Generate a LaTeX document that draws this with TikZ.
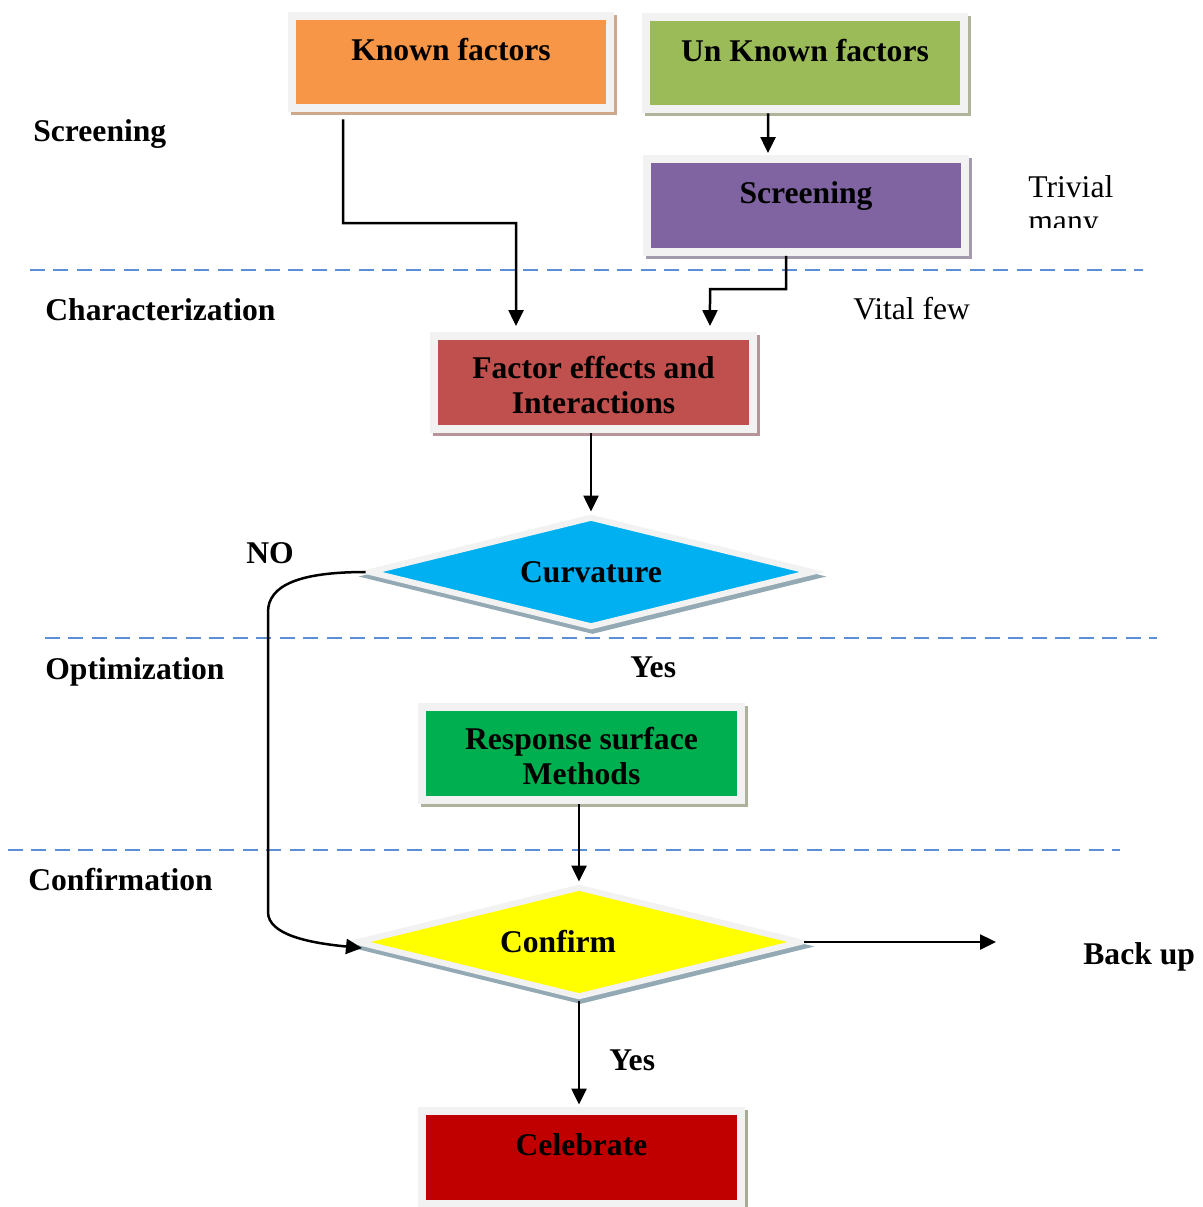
\documentclass[tikz,border=0pt]{standalone}
\usepackage{fontspec}
\setmainfont{Liberation Serif}
\usetikzlibrary{shapes.geometric,arrows.meta,positioning}

\definecolor{rim}{HTML}{F2F2F2}
\definecolor{knownfill}{HTML}{F79646}
\definecolor{knownshade}{HTML}{CFA88A}
\definecolor{unknownfill}{HTML}{9BBB59}
\definecolor{unknownshade}{HTML}{AEB59A}
\definecolor{screenfill}{HTML}{8064A2}
\definecolor{screenshade}{HTML}{A39BAD}
\definecolor{factorfill}{HTML}{C0504D}
\definecolor{factorshade}{HTML}{B69497}
\definecolor{curvfill}{HTML}{00B0F0}
\definecolor{diashade}{HTML}{93AAB4}
\definecolor{rsmfill}{HTML}{00B050}
\definecolor{rsmshade}{HTML}{AEB29C}
\definecolor{conffill}{HTML}{FFFF00}
\definecolor{celebfill}{HTML}{C00000}
\definecolor{celebshade}{HTML}{A8AE96}
\definecolor{phaseline}{HTML}{5B8ED6}

\newcommand{\flowfont}{\bfseries\fontsize{18}{20}\selectfont}
\newcommand{\notefont}{\fontsize{18}{20}\selectfont}

\tikzset {
    stagebox/.style 2 args = {rectangle, fill=#1, draw=rim, line width=0.16cm,
        minimum width=6.38cm, minimum height=1.86cm, inner sep=0pt, align=center, font=\flowfont,
        preaction={draw=#2, fill=#2, transform canvas={xshift=0.06cm, yshift=-0.06cm}}},
    oneline/.style = {text height=0.44cm, text depth=0.52cm},
    twoline/.style = {text height=1.24cm, text depth=0cm},
    decision/.style 2 args = {diamond, aspect=3.9, fill=#1, draw=rim, line width=0.12cm,
        minimum width=8.9cm, minimum height=2.22cm, inner sep=0pt, font=\flowfont,
        preaction={draw=#2, fill=#2, transform canvas={xshift=0.03cm, yshift=-0.09cm}}},
    phase/.style = {draw=phaseline, line width=0.05cm, dash pattern=on 0.3cm off 0.17cm},
    flow/.style = {->, line width=0.05cm, shorten >=0.04cm},
    tag/.style = {anchor=base west, inner sep=0pt, font=\flowfont},
    note/.style = {anchor=base west, inner sep=0pt, font=\notefont}
}

\begin{document}
\begin{tikzpicture}[x=0.02cm, y=-0.02cm, >={Triangle[length=0.32cm, width=0.3cm]}]
	\useasboundingbox (0,0) rectangle (1203,1207);

	% phase separators
	\draw[phase] (30,270) -- (1143,270);
	\draw[phase] (45,638) -- (1157,638);
	\draw[phase] (8,850) -- (1120,850);

	\node (known) [stagebox={knownfill}{knownshade}, oneline] at (451,62) {Known factors};
	\node (unknown) [stagebox={unknownfill}{unknownshade}, oneline] at (805,63) {Un Known factors};
	\node (screen) [stagebox={screenfill}{screenshade}, oneline] at (806,205.5) {Screening};
	\node (factor) [stagebox={factorfill}{factorshade}, twoline] at (593.5,382.5) {Factor effects and\\Interactions};
	\node (curv) [decision={curvfill}{diashade}] at (591,572) {Curvature};
	\node (rsm) [stagebox={rsmfill}{rsmshade}, twoline] at (581.5,753.5) {Response surface\\Methods};
	\node (conf) [decision={conffill}{diashade}] at (579,942) {Confirm\hspace*{0.84cm}};
	\node (celeb) [stagebox={celebfill}{celebshade}, oneline] at (581.5,1157) {Celebrate};

	% phase names
	\node (lscreen) [tag] at (33,141) {Screening};
	\node (lchar) [tag] at (45,320) {Characterization};
	\node (lopt) [tag] at (45,679) {Optimization};
	\node (lconf) [tag] at (28,890) {Confirmation};

	\node (trivial) [note] at (1028,197) {Trivial};
	\begin{scope}
	\clip (1000,150) rectangle (1203,227);
	\node (many) [note] at (1028,231) {many};
	\end{scope}
	\node (vital) [note] at (853,319) {Vital few};
	\node (no) [tag] at (246,563) {NO};
	\node (yes) [tag] at (630,677) {Yes};
	\node (yes2) [tag] at (609,1070) {Yes};
	\node (backup) [tag] at (1083,964) {Back up};

	\coordinate (kbend) at (516,223);
	\coordinate (sbend) at (710,289);
	\coordinate (notop) at (268,612);
	\coordinate (nobot) at (268,912);
	\coordinate (noend) at (362,948);
	\coordinate (backend) at (998,942);

	\draw[flow, shorten <=0.14cm, shorten >=0.12cm] ([xshift=-2.16cm]known.south) |- (kbend) -- ([xshift=-1.55cm]factor.north);
	\draw[flow] ([xshift=-0.74cm]unknown.south) -- ([xshift=-0.76cm]screen.north);
	\draw[flow, shorten >=0.12cm] ([xshift=-0.4cm]screen.south) |- (sbend) -- ([xshift=2.33cm]factor.north);
	\draw[flow] (factor.south -| curv.north) -- (curv.north);
	\draw[flow, shorten >=0pt] (curv.west) .. controls (300,572) and (268,585) .. (notop) -- (nobot)
	    .. controls (268,935) and (310,943) .. (noend);
	\draw[flow] (rsm.south -| conf.north) -- (conf.north);
	\draw[flow] (conf.east) -- (backend);
	\draw[flow] (conf.south) -- (celeb.north -| conf.south);
\end{tikzpicture}
\end{document}
